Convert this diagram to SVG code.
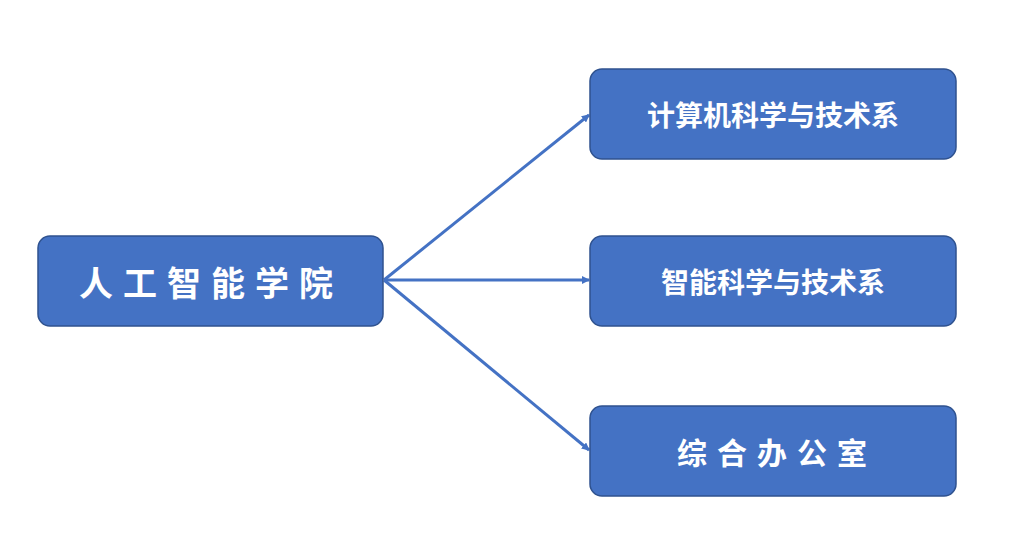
<svg xmlns="http://www.w3.org/2000/svg" width="1036" height="538" viewBox="0 0 1036 538">
<style>
.box{fill:#4472C4;stroke:#2F528F;stroke-width:1.5}
.t{fill:#fff;font-family:"Noto Sans CJK SC",sans-serif;font-weight:bold;text-anchor:middle;dominant-baseline:central}
.c{stroke:#4472C4;stroke-width:3;fill:none;marker-end:url(#a)}
</style>
<defs><marker id="a" markerWidth="8" markerHeight="8" refX="7" refY="4" orient="auto" markerUnits="userSpaceOnUse"><path d="M0,0L8,4L0,8z" fill="#4472C4"/></marker></defs>
<rect width="1036" height="538" fill="#fff"/>
<g id="connectors">
<line class="c" x1="384" y1="280" x2="589" y2="115"/>
<line class="c" x1="384" y1="280" x2="589" y2="280"/>
<line class="c" x1="384" y1="280" x2="589" y2="450"/>
</g>
<g id="n0"><rect class="box" x="38" y="236" width="345" height="90" rx="12"/><text class="t" x="211" y="281" font-size="34" letter-spacing="10">人工智能学院</text></g>
<g id="n1"><rect class="box" x="590" y="69" width="366" height="90" rx="12"/><text class="t" x="773" y="114" font-size="28">计算机科学与技术系</text></g>
<g id="n2"><rect class="box" x="590" y="236" width="366" height="90" rx="12"/><text class="t" x="773" y="281" font-size="28">智能科学与技术系</text></g>
<g id="n3"><rect class="box" x="590" y="406" width="366" height="90" rx="12"/><text class="t" x="777" y="451" font-size="30" letter-spacing="10">综合办公室</text></g>
</svg>
